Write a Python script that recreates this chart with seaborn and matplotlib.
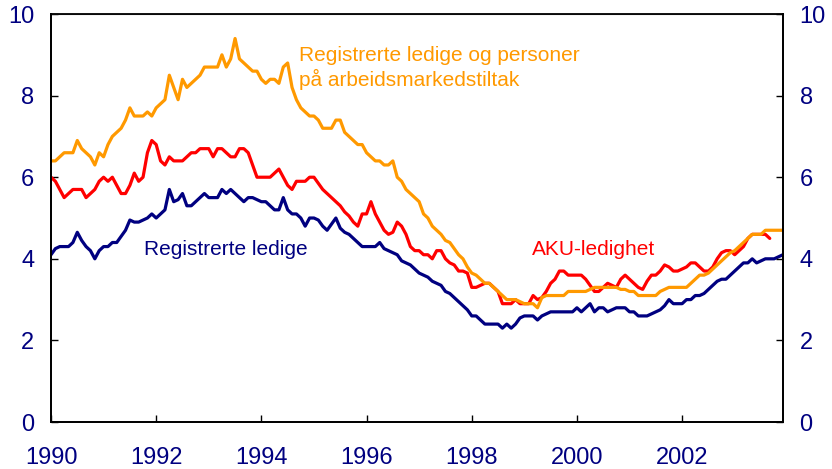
import numpy as np
import pandas as pd
import matplotlib
matplotlib.use('Agg')
import matplotlib.pyplot as plt
import seaborn as sns

# ── DATA (monthly, Jan 1990 onwards, per cent) ──────────────────────────────
START_YEAR = 1990

# Registrerte ledige og personer på arbeidsmarkedstiltak
reg_tiltak = [
    6.4, 6.4, 6.5, 6.6, 6.6, 6.6, 6.9, 6.7, 6.6, 6.5, 6.3, 6.6,
    6.5, 6.8, 7.0, 7.1, 7.2, 7.4, 7.7, 7.5, 7.5, 7.5, 7.6, 7.5,
    7.7, 7.8, 7.9, 8.5, 8.2, 7.9, 8.4, 8.2, 8.3, 8.4, 8.5, 8.7,
    8.7, 8.7, 8.7, 9.0, 8.7, 8.9, 9.4, 8.9, 8.8, 8.7, 8.6, 8.6,
    8.4, 8.3, 8.4, 8.4, 8.3, 8.7, 8.8, 8.2, 7.9, 7.7, 7.6, 7.5,
    7.5, 7.4, 7.2, 7.2, 7.2, 7.4, 7.4, 7.1, 7.0, 6.9, 6.8, 6.8,
    6.6, 6.5, 6.4, 6.4, 6.3, 6.3, 6.4, 6.0, 5.9, 5.7, 5.6, 5.5,
    5.4, 5.1, 5.0, 4.8, 4.7, 4.6, 4.45, 4.4, 4.25, 4.1, 4.0, 3.8,
    3.65, 3.6, 3.5, 3.4, 3.4, 3.3, 3.2, 3.1, 3.0, 3.0, 3.0, 2.95,
    2.9, 2.9, 2.9, 2.8, 3.05, 3.1, 3.1, 3.1, 3.1, 3.1, 3.2, 3.2,
    3.2, 3.2, 3.2, 3.25, 3.3, 3.3, 3.3, 3.3, 3.3, 3.3, 3.25, 3.25,
    3.2, 3.2, 3.1, 3.1, 3.1, 3.1, 3.1, 3.2, 3.25, 3.3, 3.3, 3.3,
    3.3, 3.3, 3.4, 3.5, 3.6, 3.6, 3.65, 3.75, 3.85, 3.95, 4.05, 4.15,
    4.2, 4.3, 4.4, 4.5, 4.6, 4.6, 4.6, 4.7, 4.7, 4.7, 4.7, 4.7,
]

# AKU-ledighet (ends a few months earlier)
aku = [
    6.0, 5.9, 5.7, 5.5, 5.6, 5.7, 5.7, 5.7, 5.5, 5.6, 5.7, 5.9,
    6.0, 5.9, 6.0, 5.8, 5.6, 5.6, 5.8, 6.1, 5.9, 6.0, 6.6, 6.9,
    6.8, 6.4, 6.3, 6.5, 6.4, 6.4, 6.4, 6.5, 6.6, 6.6, 6.7, 6.7,
    6.7, 6.5, 6.7, 6.7, 6.6, 6.5, 6.5, 6.7, 6.7, 6.6, 6.3, 6.0,
    6.0, 6.0, 6.0, 6.1, 6.2, 6.0, 5.8, 5.7, 5.9, 5.9, 5.9, 6.0,
    6.0, 5.85, 5.7, 5.6, 5.5, 5.4, 5.3, 5.15, 5.05, 4.9, 4.8, 5.1,
    5.1, 5.4, 5.1, 4.9, 4.7, 4.6, 4.65, 4.9, 4.8, 4.6, 4.3, 4.2,
    4.2, 4.1, 4.1, 4.0, 4.2, 4.2, 4.0, 3.9, 3.85, 3.7, 3.7, 3.65,
    3.3, 3.3, 3.35, 3.4, 3.4, 3.3, 3.2, 2.9, 2.9, 2.9, 3.0, 2.9,
    2.9, 2.9, 3.1, 3.0, 3.05, 3.2, 3.4, 3.5, 3.7, 3.7, 3.6, 3.6,
    3.6, 3.6, 3.5, 3.35, 3.2, 3.2, 3.3, 3.4, 3.35, 3.3, 3.5, 3.6,
    3.5, 3.4, 3.3, 3.25, 3.45, 3.6, 3.6, 3.7, 3.85, 3.8, 3.7, 3.7,
    3.75, 3.8, 3.9, 3.9, 3.8, 3.7, 3.7, 3.8, 4.0, 4.15, 4.2, 4.2,
    4.1, 4.2, 4.3, 4.5, 4.6, 4.6, 4.6, 4.6, 4.5,
]

# Registrerte ledige
reg = [
    4.1, 4.25, 4.3, 4.3, 4.3, 4.4, 4.65, 4.45, 4.3, 4.2, 4.0, 4.2,
    4.3, 4.3, 4.4, 4.4, 4.55, 4.7, 4.95, 4.9, 4.9, 4.95, 5.0, 5.1,
    5.0, 5.1, 5.2, 5.7, 5.4, 5.45, 5.6, 5.3, 5.3, 5.4, 5.5, 5.6,
    5.5, 5.5, 5.5, 5.7, 5.6, 5.7, 5.6, 5.5, 5.4, 5.5, 5.5, 5.45,
    5.4, 5.4, 5.3, 5.2, 5.2, 5.5, 5.2, 5.1, 5.1, 5.0, 4.8, 5.0,
    5.0, 4.95, 4.8, 4.7, 4.85, 5.0, 4.75, 4.65, 4.6, 4.5, 4.4, 4.3,
    4.3, 4.3, 4.3, 4.4, 4.25, 4.2, 4.15, 4.1, 3.95, 3.9, 3.85, 3.75,
    3.65, 3.6, 3.55, 3.45, 3.4, 3.35, 3.2, 3.15, 3.05, 2.95, 2.85, 2.75,
    2.6, 2.6, 2.5, 2.4, 2.4, 2.4, 2.4, 2.3, 2.4, 2.3, 2.4, 2.55,
    2.6, 2.6, 2.6, 2.5, 2.6, 2.65, 2.7, 2.7, 2.7, 2.7, 2.7, 2.7,
    2.8, 2.7, 2.8, 2.9, 2.7, 2.8, 2.8, 2.7, 2.75, 2.8, 2.8, 2.8,
    2.7, 2.7, 2.6, 2.6, 2.6, 2.65, 2.7, 2.75, 2.85, 3.0, 2.9, 2.9,
    2.9, 3.0, 3.0, 3.1, 3.1, 3.15, 3.25, 3.35, 3.45, 3.5, 3.5, 3.6,
    3.7, 3.8, 3.9, 3.9, 4.0, 3.9, 3.95, 4.0, 4.0, 4.0, 4.05, 4.1,
]

YEAR_TICKS = [1990, 1992, 1994, 1996, 1998, 2000, 2002]
Y_TICKS = [0, 2, 4, 6, 8, 10]

NAVY = "#000080"
RED = "#FF0000"
ORANGE = "#FF9900"


def to_frame(values, name):
    t = START_YEAR + np.arange(len(values)) / 12.0
    return pd.DataFrame({"tid": t, "verdi": values, "serie": name})


df = pd.concat([
    to_frame(reg, "Registrerte ledige"),
    to_frame(aku, "AKU-ledighet"),
    to_frame(reg_tiltak, "Registrerte ledige og personer på arbeidsmarkedstiltak"),
], ignore_index=True)

sns.set_theme(style="ticks")
plt.rcParams['font.family'] = ['Liberation Sans', 'DejaVu Sans']

fig = plt.figure(figsize=(8.32, 4.69), dpi=100)
ax = fig.add_axes([0.0613, 0.1002, 0.8797, 0.8699])

sns.lineplot(data=df, x="tid", y="verdi", hue="serie",
             palette=[NAVY, RED, ORANGE], linewidth=2.3,
             legend=False, ax=ax)

x_end = START_YEAR + (len(reg) - 1) / 12.0
ax.set_xlim(START_YEAR, x_end)
ax.set_ylim(0, 10)
ax.set_xticks(YEAR_TICKS)
ax.set_yticks(Y_TICKS)
ax.set_xlabel("")
ax.set_ylabel("")

ax2 = ax.twinx()
ax2.set_ylim(0, 10)
ax2.set_yticks(Y_TICKS)

for a in (ax, ax2):
    for s in a.spines.values():
        s.set_visible(True)
        s.set_color("black")
        s.set_linewidth(1.3)
    a.tick_params(direction="in", length=5, width=1, colors="black",
                  labelcolor=NAVY, labelsize=17, pad=12)
ax.tick_params(axis="x", pad=18)
ax.spines["top"].set_linewidth(0.8)
ax.spines["top"].set_color("#666666")

# line labels
ax.text(1994.72, 8.68, "Registrerte ledige og personer\npå arbeidsmarkedstiltak",
        color=ORANGE, fontsize=15, ha="left", va="center", linespacing=1.25)
ax.text(1999.15, 4.24, "AKU-ledighet", color=RED, fontsize=15,
        ha="left", va="center")
ax.text(1991.76, 4.22, "Registrerte ledige", color=NAVY, fontsize=15,
        ha="left", va="center")

fig.savefig("out.png", dpi=100)
plt.close(fig)
